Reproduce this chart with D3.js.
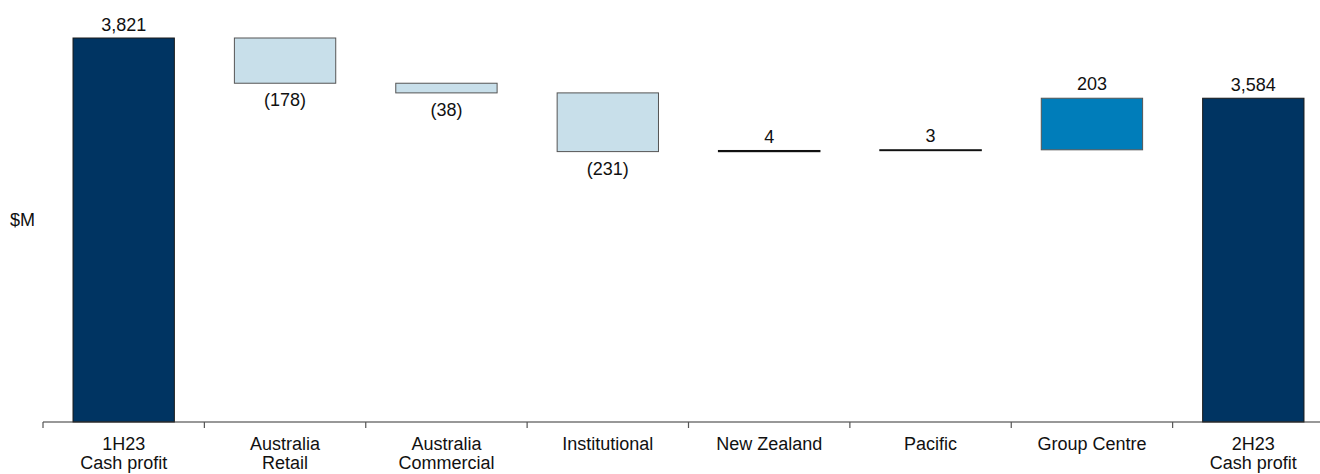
<!DOCTYPE html>
<html>
<head>
<meta charset="utf-8">
<script src="https://cdn.jsdelivr.net/npm/d3@7"></script>
<style>
  html, body { margin: 0; padding: 0; background: #fff; }
  svg { display: block; font-family: Arial, "Liberation Sans", sans-serif; }
</style>
</head>
<body>
<div id="chart"></div>
<script>
// waterfall cash profit 1H23 -> 2H23 per divisione

const categories = ["1H23|Cash profit", "Australia|Retail", "Australia|Commercial", "Institutional",
                    "New Zealand", "Pacific", "Group Centre", "2H23|Cash profit"];
const values = [3821, -178, -38, -231, 4, 3, 203, 3584];
const kinds = ["total", "delta", "delta", "delta", "delta", "delta", "delta", "total"];
const valueLabels = ["3,821", "(178)", "(38)", "(231)", "4", "3", "203", "3,584"];

const W = 1320, H = 474;

const svg = d3.select('#chart')
    .append('svg')
    .attr('width', W)
    .attr('height', H);

// calcolo inizio e fine di ogni barra
let running = 0;
const bars = categories.map((c, i) => {
    let start, end;
    if (kinds[i] === 'total') {
        start = null; end = values[i]; running = values[i];
    } else {
        start = running; end = running + values[i]; running = end;
    }
    return { cat: c, kind: kinds[i], value: values[i], start, end, label: valueLabels[i] };
});

// scale: asse y troncato come nell'originale
const x = d3.scaleBand()
    .domain(categories)
    .range([43, 1334])
    .padding(0);

const y = d3.scaleLinear()
    .domain([2310, 3821])
    .range([422, 38]);

const baseY = y.range()[0];
const barW = x.bandwidth() * 0.628;

function fillOf(d) {
    if (d.kind === 'total') return '#003462';
    if (d.value < 0) return '#C8DFEA';
    if (d.value >= 100) return '#007DBA';
    return '#C8DFEA';
}
function strokeOf(d) {
    if (d.kind === 'total') return '#1a1a1a';
    if (Math.abs(d.value) < 10) return '#111';
    return '#555';
}

// barre
svg.selectAll('.bar')
    .data(bars)
    .join('rect')
    .attr('class', 'bar')
    .attr('x', d => x(d.cat) + (x.bandwidth() - barW) / 2)
    .attr('width', barW)
    .attr('y', d => d.kind === 'total' ? y(d.end) : y(Math.max(d.start, d.end)))
    .attr('height', d => d.kind === 'total' ? baseY - y(d.end) : Math.abs(y(d.start) - y(d.end)))
    .attr('fill', fillOf)
    .attr('stroke', strokeOf)
    .attr('stroke-width', d => (d.kind === 'delta' && Math.abs(d.value) < 10) ? 1.2 : 1);

// etichette valori
svg.selectAll('.val')
    .data(bars)
    .join('text')
    .attr('class', 'val')
    .attr('x', d => x(d.cat) + x.bandwidth() / 2)
    .attr('y', d => {
        if (d.kind === 'total') return y(d.end) - 7;
        if (d.value < 0) return y(d.end) + 23;
        return y(d.end) - 8;
    })
    .attr('text-anchor', 'middle')
    .attr('font-size', 18)
    .attr('fill', '#111')
    .text(d => d.label);

// asse x: linea e tacche ai bordi delle categorie
const axis = svg.append('g').attr('class', 'axis');
axis.append('line')
    .attr('x1', x.range()[0]).attr('x2', x.range()[1])
    .attr('y1', baseY).attr('y2', baseY)
    .attr('stroke', '#333').attr('stroke-width', 1.2);

axis.selectAll('.tick')
    .data(categories)
    .join('line')
    .attr('class', 'tick')
    .attr('x1', d => x(d)).attr('x2', d => x(d))
    .attr('y1', baseY).attr('y2', baseY + 6)
    .attr('stroke', '#555').attr('stroke-width', 1.2);

// etichette categorie (a capo su |)
axis.selectAll('.catlabel')
    .data(categories)
    .join('text')
    .attr('class', 'catlabel')
    .attr('x', d => x(d) + x.bandwidth() / 2)
    .attr('y', 450)
    .attr('text-anchor', 'middle')
    .attr('font-size', 18)
    .attr('fill', '#111')
    .each(function(d) {
        const parts = d.split('|');
        const t = d3.select(this);
        parts.forEach((p, i) => {
            t.append('tspan')
                .attr('x', x(d) + x.bandwidth() / 2)
                .attr('dy', i === 0 ? 0 : 19)
                .text(p);
        });
    });

// unita di misura
svg.append('text')
    .attr('x', 10)
    .attr('y', 226)
    .attr('font-size', 18)
    .attr('fill', '#111')
    .text('$M');
</script>
</body>
</html>
